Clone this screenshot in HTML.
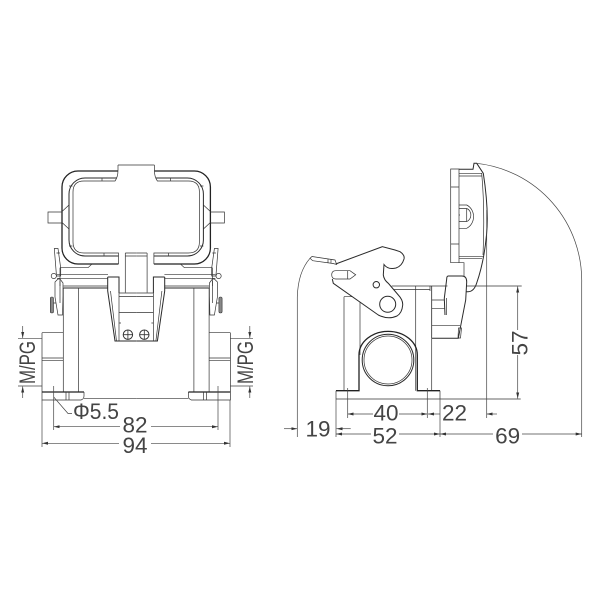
<!DOCTYPE html>
<html>
<head>
<meta charset="utf-8">
<style>
html,body{margin:0;padding:0;background:#fff;width:600px;height:600px;overflow:hidden}
svg{display:block}
text{font-family:"Liberation Sans",sans-serif;fill:#444;font-size:22.5px}
.t{fill:none;stroke:#333;stroke-width:.7}
.m{fill:none;stroke:#2a2a2a;stroke-width:1}
.b{fill:none;stroke:#222;stroke-width:1.3}
.d{fill:none;stroke:#444;stroke-width:.7}
</style>
</head>
<body>
<svg width="600" height="600" viewBox="0 0 600 600" xmlns="http://www.w3.org/2000/svg">
<defs>
<marker id="a" viewBox="0 0 6 4" refX="6" refY="2" markerWidth="6" markerHeight="4" orient="auto-start-reverse" markerUnits="userSpaceOnUse"><path d="M0 .5L6 2L0 3.500z" fill="#333"/></marker>
<g id="half">
  <path class="b" d="M118 171H78A16 16 0 0 0 62 187V248A16 16 0 0 0 78 264H118.500"/>
  <path class="m" d="M116.500 178H85A16 16 0 0 0 69 194V240A16 16 0 0 0 85 256H118.500"/>
  <path class="t" d="M118 165V170Q118 177 115 181H84Q73 181 73 192V242Q73 253 84 253H118.500V264"/>
  <path class="t" d="M102 178V181M104 256V253M69 186H72.500M69 246H72.500"/>
  <path class="t" d="M62 212H48V223H62M62 211.500L69 205M62 222.500L69 229"/>
  <path class="t" d="M60 267.700H88L91.700 264.300"/>
  <path class="t" d="M54.300 248.500H58L60.700 268V276H56.500ZM56.500 253H60"/>
  <circle class="t" cx="53.800" cy="276" r="2.600"/>
  <path class="t" d="M57 274.300H108M57 278.300H108M60 267.700V286"/>
  <path class="t" d="M55 282L58 279H60L63 283V296L62.500 315H58L57 309L55 297Z"/>
  <rect x="50.300" y="297" width="3.200" height="16" rx="1.500" fill="#888" stroke="#333" stroke-width=".6"/>
  <path class="t" d="M53.500 303H56M60 281V303"/>
  <path class="m" d="M63.300 288H108"/>
  <path class="t" d="M63.300 286H108"/>
  <path class="t" d="M63.300 288V392M78.500 288V392"/>
  <path class="m" d="M107.700 277H119V293M107.700 277V291L115 341H136.200"/>
  <path class="t" d="M110.500 291L116.500 341M119 293V341.000M119 293H136.200M119 296.500H136.200M119 312.500H136.200M119 323H121"/>
  <path class="t" d="M125.300 253H136.200M125.300 256H136.200M125.300 253V292.500"/>
  <path class="t" d="M42 332.700H63.300M42 332.700V392M42 358H63.300M42 360.700H63.300"/>
  <path class="b" d="M42 392H84"/>
  <path class="t" d="M42 392V400H81Q84 399 84 396V392M66 392V400M69 392V400"/>
  <path class="t" d="M84 398.300H136.200"/>
</g>
</defs>

<rect width="600" height="600" fill="#fff"/>

<!-- front view -->
<use href="#half"/>
<use href="#half" transform="matrix(-1 0 0 1 272.400 0)"/>
<path class="t" d="M118 165H154.400"/>
<g fill="#fff" stroke="#333" stroke-width="1">
<circle cx="127.900" cy="334.700" r="4.700"/><circle cx="144.300" cy="334.700" r="4.700"/>
</g>
<path d="M123.200 334.700H132.600M127.900 330V339.400M139.600 334.700H149M144.300 330V339.400" stroke="#333" stroke-width=".8" fill="none"/>

<!-- front dims -->
<path class="d" d="M18 338.700H42M18 386H42M230 338.700H253M230 386H253"/>
<path class="d" marker-end="url(#a)" d="M22.700 326V338"/>
<path class="d" marker-end="url(#a)" d="M22.700 398V386.500"/>
<path class="d" marker-end="url(#a)" d="M249.800 326V338"/>
<path class="d" marker-end="url(#a)" d="M249.800 398V386.500"/>
<text transform="translate(35 384) rotate(-90)" style="font-size:22px" textLength="43" lengthAdjust="spacingAndGlyphs">M/PG</text>
<text transform="translate(253 384) rotate(-90)" style="font-size:22px" textLength="43" lengthAdjust="spacingAndGlyphs">M/PG</text>

<path class="d" d="M53.700 386V430M218 386V430M42 400V447M230 400V447"/>
<path class="d" d="M53.700 397L68 413.500H72"/>
<text x="73" y="419" textLength="46" lengthAdjust="spacingAndGlyphs">Φ5.5</text>
<path class="d" marker-start="url(#a)" d="M53.700 426.700H120"/>
<path class="d" marker-end="url(#a)" d="M151 426.700H218"/>
<text x="135" y="432.500" text-anchor="middle">82</text>
<path class="d" marker-start="url(#a)" d="M42 443.300H119"/>
<path class="d" marker-end="url(#a)" d="M151 443.300H230"/>
<text x="135" y="453" text-anchor="middle">94</text>

<!-- side view: lid -->
<path class="t" d="M450.700 169H459V262.700H450.700ZM450.700 187H459M450.700 244H459"/>
<path class="m" d="M459 169.300H473L474 163.300H476.700L483.300 173.300Q489 210 486.500 235Q484 262 476.700 283Q474 291.700 468 291.700H462"/>
<path class="t" d="M459 173.300H481.700Q485 210 483 255M459 176H482M459 256.700H483M459 258.700H482M459 262.700H464V276.700"/>
<path class="t" d="M459 205H466.700A11.700 12.800 0 0 1 466.700 228.300H459M459 208.500H466.700A5.500 6.700 0 0 1 466.700 221.500H459M459 215H460"/>
<path class="t" d="M466.700 208.500V221.500"/>

<!-- side view: body -->
<path class="t" d="M391.700 286H521.700M394 289.500H430M344 296.700V390.700M360 296.700V355M415.700 286V390.700M431.700 286V390.700M430 286V291M344 296.700H362"/>
<path class="b" d="M336 390.700H359V355A29 23.500 0 0 1 417.300 355V390.700H440"/>
<path class="t" d="M336 390.700V399M440 390.700V399M336 399H520.700"/>
<circle cx="388" cy="360" r="25.800" class="m" fill="#fff" style="fill:#fff"/>
<circle cx="388" cy="360" r="24" class="t"/>

<!-- handle -->
<path class="m" style="fill:#fff" d="M448.300 276H462Q466.700 276 466.700 282L465.700 300L458.300 338.300H431.700M448.300 276Q446.700 276 446.700 279L444.300 298.300L445 315"/>
<path class="t" d="M431.700 286V338M431.700 300H444.300M431.700 308.300H445M431.700 325.700H460M446.500 298V315M458.500 328H461.500L460.500 338H458Z"/>

<!-- latch -->
<path class="m" style="fill:#fff" d="M335.700 264L382.300 246.700L395 250L400 251.700Q405 255 404 259Q402 266 396 268Q388 270 384 264.500L383.300 275Q384 280 388.300 283.300L398.300 295Q403 300 402.700 305Q402 313 397 316Q388 320 378.300 315L333.300 283.300L332.300 279"/>
<path class="t" style="fill:#fff" d="M335.700 270.700H350L355.700 274.800L350 279H335.700Q331.700 279 331.700 274.800Q331.700 270.700 335.700 270.700ZM347.700 270.700V279"/>
<circle class="m" cx="376.300" cy="284.700" r="3.200" style="fill:#fff"/>
<circle class="m" cx="387.700" cy="304.300" r="8" style="fill:#fff"/>
<path class="t" d="M310 258.300L312 256.500L335 260L336.700 264.500L333 263.500L312.700 260.700ZM328 259V262.500M331 259.500V263"/>

<!-- side dims -->
<path class="d" d="M476.700 163.300A118 118 0 0 1 581.700 283V437"/>
<path class="d" d="M310 258.300Q298 272 297.300 297V437"/>
<path class="d" d="M486.700 210V418"/>
<path class="d" marker-end="url(#a)" d="M517.700 330V286.500"/>
<path class="d" marker-end="url(#a)" d="M517.700 355V398.500"/>
<text transform="translate(527.700 355.500) rotate(-90)">57</text>

<path class="d" d="M347.700 388V418M427.300 388V418M336 399V437M440 399V437"/>
<path class="d" marker-start="url(#a)" d="M347.700 414H373"/>
<path class="d" marker-end="url(#a)" d="M399 414H427.300"/>
<text x="386" y="420.700" text-anchor="middle">40</text>
<path class="d" marker-start="url(#a)" d="M428 414H440"/>
<text x="454.500" y="420.700" text-anchor="middle">22</text>
<path class="d" marker-start="url(#a)" d="M486.700 414H497"/>

<path class="d" marker-end="url(#a)" d="M284 428.700H297.300"/>
<text x="318" y="436.700" text-anchor="middle">19</text>
<path class="d" marker-start="url(#a)" d="M336.500 428.700H350.700"/>
<path class="d" marker-start="url(#a)" d="M336 434H371"/>
<path class="d" marker-end="url(#a)" d="M399 434H440"/>
<text x="385" y="443.300" text-anchor="middle">52</text>
<path class="d" marker-start="url(#a)" d="M440 434H493"/>
<path class="d" marker-end="url(#a)" d="M522 434H581.700"/>
<text x="507.700" y="443.300" text-anchor="middle">69</text>
</svg>
</body>
</html>
